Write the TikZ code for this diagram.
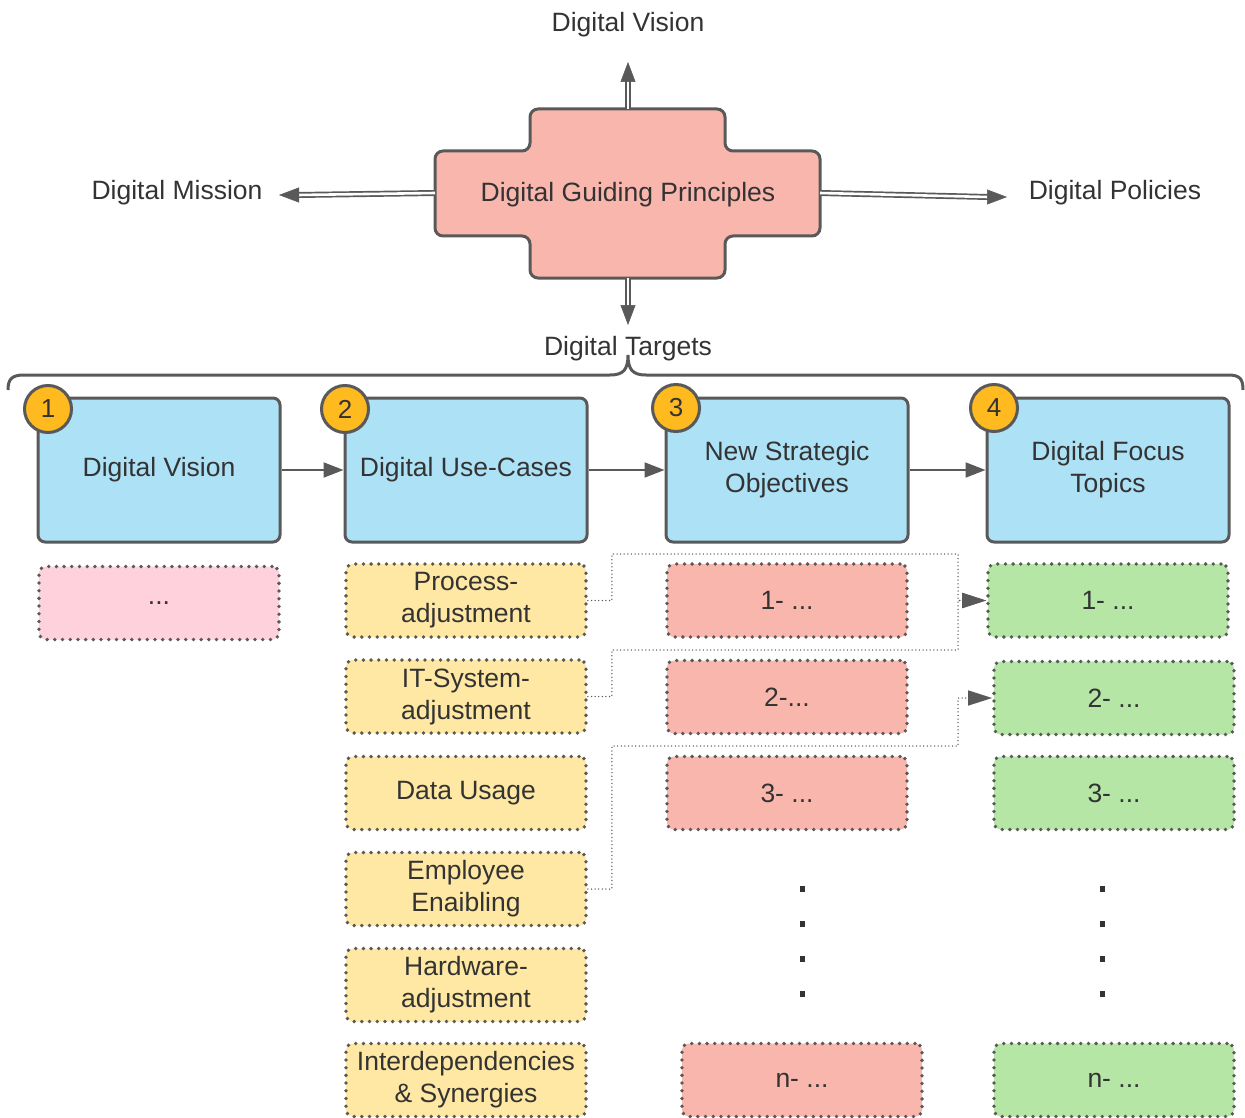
\documentclass[tikz,border=0pt]{standalone}
\usepackage{fontspec}
\setmainfont{Liberation Sans}
\usetikzlibrary{arrows.meta}
\definecolor{linec}{HTML}{595959}
\definecolor{txtc}{HTML}{333333}
\definecolor{blueF}{HTML}{ADE1F5}
\definecolor{salmonF}{HTML}{F9B6AD}
\definecolor{pinkF}{HTML}{FFD1DC}
\definecolor{yellowF}{HTML}{FFE8A3}
\definecolor{greenF}{HTML}{B5E6A5}
\definecolor{orangeF}{HTML}{FFBA20}
\newcommand{\fsz}{\fontsize{26.5}{32}\selectfont}
\begin{document}
\begin{tikzpicture}[x=1pt,y=-1pt,
  lbl/.style={text=txtc, font=\fsz, inner sep=0pt, align=center},
  bigbox/.style={draw=linec, line width=3pt, fill=blueF, rounded corners=7pt, minimum width=242pt, minimum height=144pt, inner sep=0pt, text=txtc, font=\fsz, align=center},
  badge/.style={circle, draw=linec, line width=3pt, fill=orangeF, minimum size=47pt, inner sep=0pt, text=txtc, font=\fontsize{26}{28}\selectfont},
  subbox/.style={draw=linec, line width=3.8pt, dash pattern=on 0pt off 7.7pt, line cap=round, rounded corners=7pt, minimum width=240pt, minimum height=73pt, inner sep=0pt, text=txtc, font=\fsz, align=center},
  crossst/.style={draw=linec, line width=3pt, fill=salmonF, rounded corners=8pt},
  flow/.style={draw=linec, line width=2pt, -{Triangle[length=20pt,width=15pt]}},
  dbl/.style={draw=linec, line width=1.7pt, double=white, double distance=2.6pt},
  dbltip/.style={draw=linec, fill=linec, line width=0.5pt, -{Triangle[length=20pt,width=15pt]}},
  conn/.style={draw=linec, line width=1.5pt, dash pattern=on 0pt off 3.6pt, line cap=round, -{Triangle[length=24pt,width=15pt]}},
  bracest/.style={draw=linec, line width=3pt},
  dotmark/.style={fill=txtc}
]
\useasboundingbox (0,0) rectangle (1245,1118);

% ---- top cross ----
\draw[crossst] (530,109) -- (725,109) -- (725,151) -- (820,151) -- (820,236) -- (725,236) -- (725,278) -- (530,278) -- (530,236) -- (435,236) -- (435,151) -- (530,151) -- cycle;
\node[lbl] (gp) at (628,194.5) {Digital Guiding Principles};

\node[lbl] (tvision) at (628,25) {Digital Vision};
\node[lbl] (tmission) at (177,193) {Digital Mission};
\node[lbl] (tpolicies) at (1115,193) {Digital Policies};
\node[lbl] (ttargets) at (628,349) {Digital Targets};

\coordinate (cN) at (628,109);
\coordinate (cS) at (628,278);
\coordinate (cW) at (435,193);
\coordinate (cE) at (820,193);
\coordinate (sN) at (628,81);
\coordinate (sS) at (628,306);
\coordinate (sW) at (298,195);
\coordinate (sE) at (988,197);
\coordinate (tN) at (628,62);
\coordinate (tS) at (628,325);
\coordinate (tW) at (279,195);
\coordinate (tE) at (1007,197);

\draw[dbl] (cN) -- (sN);
\draw[dbltip] (sN) -- (tN);
\draw[dbl] (cS) -- (sS);
\draw[dbltip] (sS) -- (tS);
\draw[dbl] (cW) -- (sW);
\draw[dbltip] (sW) -- (tW);
\draw[dbl] (cE) -- (sE);
\draw[dbltip] (sE) -- (tE);

% ---- brace ----
\draw[bracest] (8,390) .. controls (8,379) and (12,375) .. (24,375) -- (610,375)
  .. controls (623,375) and (628,370) .. (628,355)
  .. controls (628,370) and (633,375) .. (646,375) -- (1228,375)
  .. controls (1240,375) and (1243,379) .. (1243,390);

% ---- main boxes ----
\node[bigbox] (b1) at (159,470) {Digital Vision};
\node[bigbox] (b2) at (466,470) {Digital Use-Cases};
\node[bigbox] (b3) at (787,470) {New Strategic\\Objectives};
\node[bigbox] (b4) at (1108,470) {Digital Focus\\Topics};

\node[badge] (n1) at (48,409) {1};
\node[badge] (n2) at (345,409) {2};
\node[badge] (n3) at (676,408) {3};
\node[badge] (n4) at (994,408) {4};

\draw[flow] (b1) -- (b2);
\draw[flow] (b2) -- (b3);
\draw[flow] (b3) -- (b4);

% ---- sub boxes ----
\node[subbox, fill=pinkF] (p1) at (159,603) {...};

\node[subbox, fill=yellowF] (y1) at (466,600.5) {Process-\\adjustment};
\node[subbox, fill=yellowF] (y2) at (466,696.5) {IT-System-\\adjustment};
\node[subbox, fill=yellowF] (y3) at (466,793) {Data Usage};
\node[subbox, fill=yellowF] (y4) at (466,889) {Employee\\Enaibling};
\node[subbox, fill=yellowF] (y5) at (466,985) {Hardware-\\adjustment};
\node[subbox, fill=yellowF] (y6) at (466,1080) {Interdependencies\\\& Synergies};

\node[subbox, fill=salmonF] (r1) at (787,600.5) {1- ...};
\node[subbox, fill=salmonF] (r2) at (787,697) {2-...};
\node[subbox, fill=salmonF] (r3) at (787,793) {3- ...};
\node[subbox, fill=salmonF] (rn) at (802,1080) {n- ...};

\node[subbox, fill=greenF] (g1) at (1108,600.5) {1- ...};
\node[subbox, fill=greenF] (g2) at (1114,698) {2- ...};
\node[subbox, fill=greenF] (g3) at (1114,793) {3- ...};
\node[subbox, fill=greenF] (gn) at (1114,1080) {n- ...};

% ---- vertical dots ----
\foreach \yy in {889,924,959,994} {
  \fill[dotmark] (799.5,\yy-3) rectangle (804.5,\yy+3);
  \fill[dotmark] (1099.5,\yy-3) rectangle (1104.5,\yy+3);
}

% ---- dotted connectors ----
\draw[conn] (y1.east) -- ++(24,0) |- (958,554) |- (g1.west);
\draw[conn] (y2.east) -- ++(24,0) |- (958,650) |- (g1.west);
\draw[conn] (y4.east) -- ++(24,0) |- (958,746) |- (g2.west);
\end{tikzpicture}
\end{document}
